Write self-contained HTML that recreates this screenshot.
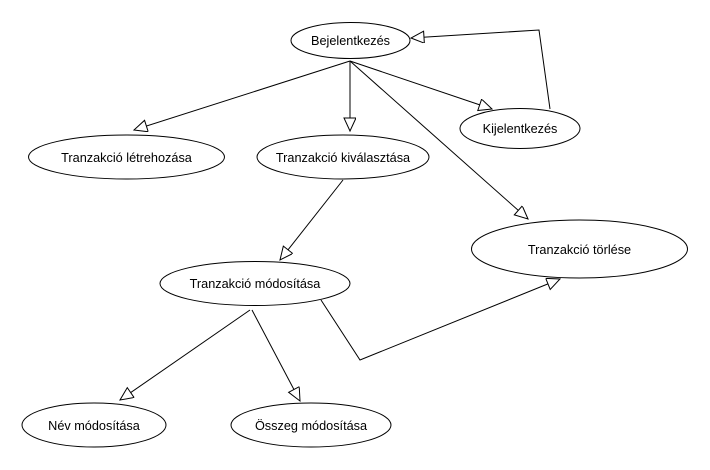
<!DOCTYPE html>
<html><head><meta charset="utf-8"><style>
html,body{margin:0;padding:0;background:#fff;}
svg{display:block;}
text{font-family:"Liberation Sans",sans-serif;font-size:12.7px;fill:#000;text-anchor:middle;}
</style></head><body>
<svg width="710" height="470" viewBox="0 0 710 470">
<defs>
<marker id="a" markerUnits="userSpaceOnUse" markerWidth="16" markerHeight="14" refX="14" refY="6" orient="auto">
<path d="M1,0 L14,6 L1,12 Z" fill="#fff" stroke="#000" stroke-width="1"/>
</marker>
</defs>
<g fill="#fff" stroke="#000" stroke-width="1">
<ellipse cx="350.5" cy="40.5" rx="59.5" ry="18"/>
<ellipse cx="520" cy="128.5" rx="60" ry="20"/>
<ellipse cx="126.5" cy="157" rx="98" ry="22"/>
<ellipse cx="343" cy="157" rx="86" ry="22"/>
<ellipse cx="579.5" cy="249" rx="108" ry="29"/>
<ellipse cx="255" cy="283.5" rx="95" ry="22"/>
<ellipse cx="94" cy="425" rx="72" ry="22"/>
<ellipse cx="311" cy="425" rx="80" ry="22"/>
</g>
<g fill="none" stroke="#000" stroke-width="1">
<line x1="350" y1="61" x2="134" y2="130" marker-end="url(#a)"/>
<line x1="350" y1="61" x2="350" y2="131" marker-end="url(#a)"/>
<line x1="350" y1="61" x2="492" y2="109" marker-end="url(#a)"/>
<line x1="350" y1="61" x2="528" y2="219" marker-end="url(#a)"/>
<polyline points="550,109 539,30 411,38" marker-end="url(#a)"/>
<line x1="343" y1="180" x2="280" y2="260" marker-end="url(#a)"/>
<polyline points="321,300 360,360 560,279" marker-end="url(#a)"/>
<line x1="250" y1="310" x2="120" y2="400" marker-end="url(#a)"/>
<line x1="252" y1="310" x2="300" y2="401" marker-end="url(#a)"/>
</g>
<text x="350.5" y="45">Bejelentkezés</text>
<text x="520" y="133">Kijelentkezés</text>
<text x="126.5" y="162">Tranzakció létrehozása</text>
<text x="343" y="162">Tranzakció kiválasztása</text>
<text x="579.5" y="254">Tranzakció törlése</text>
<text x="255" y="288">Tranzakció módosítása</text>
<text x="94" y="430">Név módosítása</text>
<text x="311" y="430">Összeg módosítása</text>
</svg>
</body></html>
